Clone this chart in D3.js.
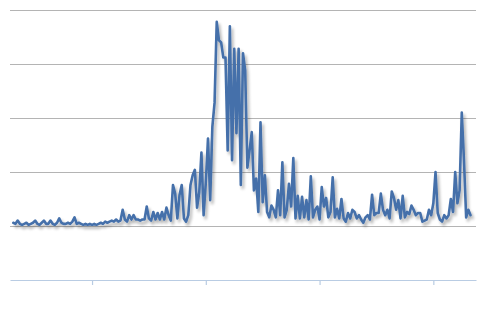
<!DOCTYPE html>
<html>
<head>
<meta charset="utf-8">
<script src="https://cdn.jsdelivr.net/npm/d3@7/dist/d3.min.js"></script>
<style>
  body { margin: 0; background: #fff; }
  #chart { width: 500px; height: 320px; }
</style>
</head>
<body>
<div id="chart"></div>
<script>
'use strict';

// weekly values, one per week
var values = [
  3, 2, 5, 2, 1, 2, 3, 1, 2, 3, 5, 2, 1, 3, 5, 2, 2, 5, 2, 1,
  3, 7, 3, 2, 2, 3, 2, 4, 8, 2, 3, 2, 1, 2, 1, 2, 1, 2, 1, 2,
  3, 2, 4, 3, 4, 5, 4, 6, 4, 5,
  15, 6, 4, 10, 6, 10, 6, 6, 5, 6,
  6, 18, 7, 5, 13, 6, 12, 6, 13, 6,
  17, 10, 5, 38, 30, 7, 29, 38, 7, 4,
  10, 38, 47, 52, 17, 31, 68, 10, 40, 81,
  24, 92, 114, 189, 172, 170, 156, 156, 70, 185,
  61, 164, 86, 164, 38, 160, 144, 54, 70, 87,
  33, 44, 13, 96, 22, 47, 13, 8, 19, 15,
  8, 33, 10, 59, 8, 15, 39, 18, 63, 7,
  28, 7, 27, 8, 24, 6, 46, 8, 15, 18,
  6, 36, 18, 26, 8, 13, 45, 8, 16, 7,
  25, 7, 4, 12, 7, 15, 13, 7, 10, 6,
  3, 8, 10, 6, 29, 10, 12, 12, 30, 15,
  10, 15, 7, 32, 26, 15, 24, 7, 28, 8,
  13, 11, 19, 15, 10, 12, 12, 4, 5, 6,
  15, 10, 21, 50, 12, 6, 4, 10, 7, 10,
  25, 13, 50, 21, 33, 105, 61, 8, 15, 10
];
var weeks = d3.range(values.length);
var yearStarts = [36, 88, 140, 192];
var gridValues = [0, 50, 100, 150, 200];

var w = 500, h = 320,
    padl = 10, padr = 476, padt = 10, padb = 280;

var x = d3.scaleLinear().domain([-1.5, 211.5]).range([padl, padr]);
var y = d3.scaleLinear().domain([-50, 200]).range([padb, padt]);

var svg = d3.select('#chart')
  .append('svg')
  .attr('width', w)
  .attr('height', h);

var defs = svg.append('defs');
var shadow = defs.append('filter')
  .attr('id', 'shadow')
  .attr('x', '-5%').attr('y', '-5%')
  .attr('width', '110%').attr('height', '115%');
shadow.append('feGaussianBlur')
  .attr('in', 'SourceAlpha')
  .attr('stdDeviation', 1.6)
  .attr('result', 'blur');
shadow.append('feOffset')
  .attr('in', 'blur')
  .attr('dx', 1.5).attr('dy', 3)
  .attr('result', 'off');
shadow.append('feComponentTransfer')
  .attr('in', 'off')
  .attr('result', 'faded')
  .append('feFuncA')
  .attr('type', 'linear')
  .attr('slope', 0.3);
var merge = shadow.append('feMerge');
merge.append('feMergeNode').attr('in', 'faded');
merge.append('feMergeNode').attr('in', 'SourceGraphic');

// gridlines
svg.append('g')
  .attr('class', 'grid')
  .attr('transform', 'translate(' + padl + ',0)')
  .call(d3.axisLeft(y).tickValues(gridValues).tickSize(-(padr - padl)).tickFormat(''))
  .call(function (g) {
    g.select('.domain').remove();
    g.selectAll('line').attr('stroke', '#b4b4b4').attr('stroke-width', 1);
  });

// bottom axis
svg.append('g')
  .attr('class', 'x axis')
  .attr('transform', 'translate(0,' + padb + ')')
  .call(d3.axisBottom(x).tickValues(yearStarts).tickSize(5).tickSizeOuter(0).tickFormat(''))
  .call(function (g) {
    g.select('.domain').attr('stroke', '#b9cce3').attr('stroke-width', 1.2);
    g.selectAll('.tick line').attr('stroke', '#b9cce3').attr('stroke-width', 1.2);
  });

// line
var line = d3.line()
  .x(function (d, i) { return x(weeks[i]); })
  .y(function (d) { return y(d); });

svg.append('path')
  .datum(values)
  .attr('fill', 'none')
  .attr('stroke', '#4570aa')
  .attr('stroke-width', 2.6)
  .attr('stroke-linejoin', 'round')
  .attr('stroke-linecap', 'round')
  .attr('filter', 'url(#shadow)')
  .attr('d', line);
</script>
</body>
</html>
